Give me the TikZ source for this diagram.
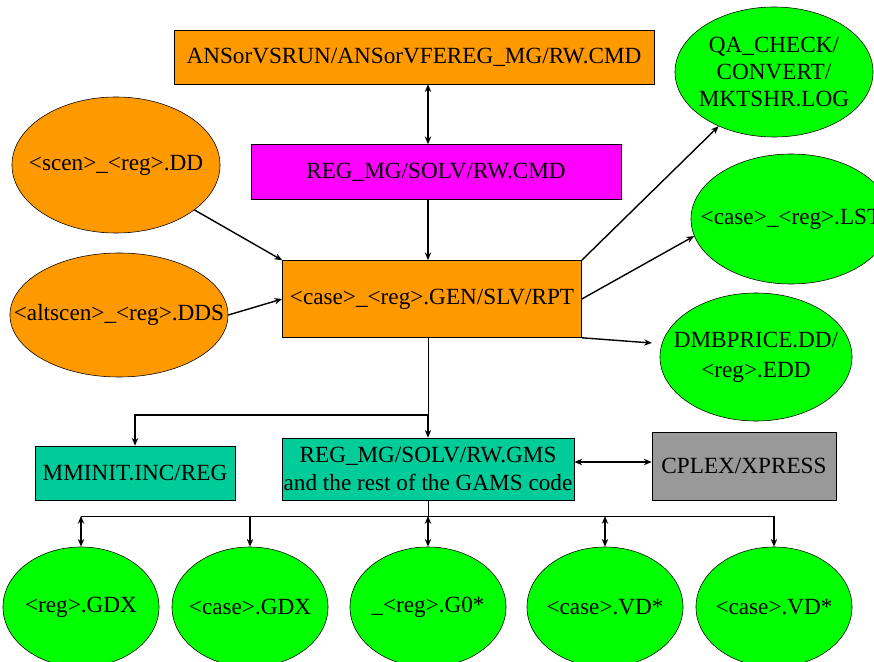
\documentclass[tikz,border=0pt]{standalone}
\usepackage{fontspec}
\setmainfont{Liberation Serif}
\usetikzlibrary{arrows.meta,shapes.geometric}
\definecolor{fileorange}{HTML}{FF9900}
\definecolor{cmdmagenta}{HTML}{FF00FF}
\definecolor{outgreen}{HTML}{00FF00}
\definecolor{gamsteal}{HTML}{00CC99}
\definecolor{solvergray}{HTML}{999999}

\begin{document}
\begin{tikzpicture}[x=0.025cm,y=-0.025cm,
  font=\fontsize{16.5}{19.5}\selectfont,
  filebox/.style={draw,rectangle,inner sep=0pt,align=center},
  fileoval/.style={draw,ellipse,inner sep=0pt,label={[align=center]center:#1}},
  link/.style={-{Stealth[length=5.5pt,width=4.5pt]},line width=1pt},
  twoway/.style={{Stealth[length=5.5pt,width=4.5pt]}-{Stealth[length=5.5pt,width=4.5pt]},line width=1pt}]
  \clip (0,0) rectangle (874,662);
  % Command files
  \node[filebox,fill=fileorange,minimum width=12cm,minimum height=1.35cm] (ans) at (414,57) {ANSorVSRUN/ANSorVFEREG\_MG/RW.CMD};
  \node[filebox,fill=cmdmagenta,minimum width=9.25cm,minimum height=1.375cm] (solvcmd) at (436,172) {REG\_MG/SOLV/RW.CMD};
  \node[filebox,fill=fileorange,minimum width=7.475cm,minimum height=1.925cm] (gen) at (432,299) {<case>\_<reg>.GEN/SLV/RPT};
  % Input data
  \node[fileoval={<scen>\_<reg>.DD},fill=fileorange,minimum width=5.2cm,minimum height=3.4cm] (scen) at (116,165) {};
  \node[fileoval={<altscen>\_<reg>.DDS},fill=fileorange,minimum width=5.45cm,minimum height=3.1cm] (altscen) at (119,315) {};
  % Output logs
  \node[fileoval={QA\_CHECK/\\CONVERT/\\MKTSHR.LOG},fill=outgreen,minimum width=4.95cm,minimum height=3.25cm] (qa) at (774,72) {};
  \node[fileoval={<case>\_<reg>.LST},fill=outgreen,minimum width=5cm,minimum height=3.25cm] (lst) at (791,219) {};
  \node[fileoval={DMBPRICE.DD/\\[2pt]<reg>.EDD},fill=outgreen,minimum width=4.8cm,minimum height=3.2cm] (dmb) at (756,357) {};
  % GAMS code and solver
  \node[filebox,fill=gamsteal,minimum width=5cm,minimum height=1.35cm] (mminit) at (135,473) {MMINIT.INC/REG};
  \node[filebox,fill=gamsteal,minimum width=7.3cm,minimum height=1.55cm] (gms) at (428,469) {REG\_MG/SOLV/RW.GMS\\and the rest of the GAMS code};
  \node[filebox,fill=solvergray,minimum width=4.6cm,minimum height=1.7cm] (cplex) at (744,466) {CPLEX/XPRESS};
  % Result files
  \node[fileoval={<reg>.GDX},fill=outgreen,minimum width=3.9cm,minimum height=3cm] (gdxreg) at (81,607) {};
  \node[fileoval={<case>.GDX},fill=outgreen,minimum width=3.9cm,minimum height=3cm] (gdxcase) at (250,607) {};
  \node[fileoval={\_<reg>.G0*},fill=outgreen,minimum width=3.9cm,minimum height=3cm] (gzero) at (428,607) {};
  \node[fileoval={<case>.VD*},fill=outgreen,minimum width=3.9cm,minimum height=3cm] (vdone) at (605,607) {};
  \node[fileoval={<case>.VD*},fill=outgreen,minimum width=3.9cm,minimum height=3cm] (vdtwo) at (774,607) {};
  % Connectors
  \coordinate (spine) at (428,0);
  \coordinate (split) at (428,415);
  \coordinate (bus) at (428,516);
  \draw[twoway] (ans.south -| spine) -- (solvcmd.north -| spine);
  \draw[link] (solvcmd.south -| spine) -- (gen.north -| spine);
  \draw[link] (scen) -- (gen.north west);
  \draw[link] (altscen.east) -- (gen.west);
  \draw[link] (gen.north east) -- (qa);
  \draw[link] (gen.east) -- (lst.190);
  \draw[link,shorten >=7pt] (gen.south east) -- (dmb.172);
  \draw[line width=0.6pt] (gen.south -| spine) -- (split);
  \draw[link] (split) -- (gms.north -| spine);
  \draw[link] (split) -| (mminit.north);
  \draw[twoway] (gms.east |- 0,462) -- (cplex.west |- 0,462);
  \draw[line width=0.6pt] (gms.south -| spine) -- (bus);
  \draw[line width=0.6pt] (gdxreg |- bus) -- (vdtwo |- bus);
  \foreach \o in {gdxcase,vdtwo}
    \draw[link] (\o |- bus) -- (\o.north);
  \foreach \o in {gdxreg,gzero,vdone}
    \draw[twoway] (\o |- bus) -- (\o.north);
\end{tikzpicture}
\end{document}
